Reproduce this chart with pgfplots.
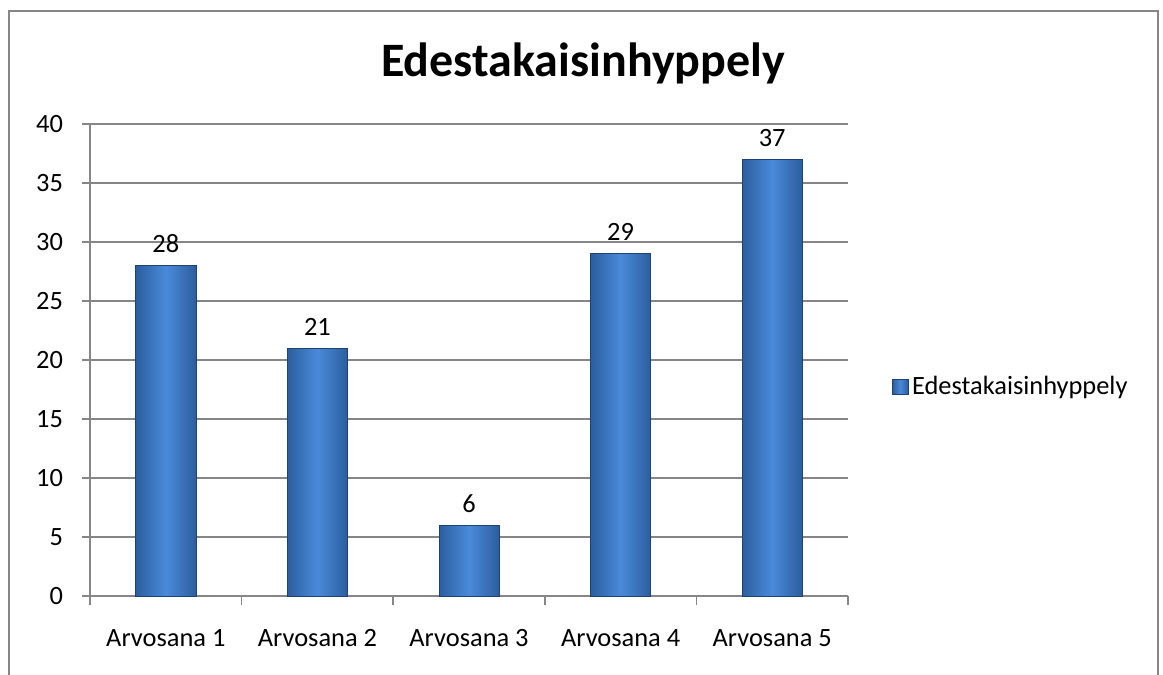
\documentclass[border=0pt]{standalone}
\usepackage{pgfplots}
\pgfplotsset{compat=1.18}
\usepackage{fontspec}
\setmainfont{Carlito}
\definecolor{gridgray}{HTML}{868686}
\definecolor{barmid}{HTML}{4A8ADA}
\definecolor{baredge}{HTML}{2C5E9F}
\begin{document}
\begin{tikzpicture}[x=1pt,y=1pt]
\path[use as bounding box] (0,0) rectangle (581.5,337.5);
\draw[gridgray, line width=1pt] (4.5,-2) -- (4.5,332) -- (579,332) -- (579,-2);
\node[font=\bfseries\fontsize{24}{28}\selectfont, anchor=base] at (291.5,299) {Edestakaisinhyppely};
\begin{axis}[
  at={(45pt,39.5pt)}, anchor=south west,
  scale only axis, width=379pt, height=236pt,
  xmin=-0.5, xmax=4.5, ymin=0, ymax=40,
  axis x line=bottom, axis y line=left,
  axis line style={gridgray, line width=0.8pt, -},
  xtick={0,1,2,3,4},
  xticklabels={Arvosana 1,Arvosana 2,Arvosana 3,Arvosana 4,Arvosana 5},
  major x tick style={draw=none},
  minor xtick={-0.5,0.5,1.5,2.5,3.5,4.5},
  minor x tick style={gridgray, line width=0.8pt},
  minor tick length=4.5pt,
  ytick={0,5,...,40},
  y tick style={gridgray, line width=0.8pt},
  major tick length=4pt,
  tick align=outside,
  ymajorgrids, grid style={gridgray, line width=0.8pt},
  tick label style={font=\fontsize{13.2}{15}\selectfont},
  xticklabel style={yshift=-9pt},
  yticklabel style={xshift=-6pt},
  /pgf/number format/assume math mode=true,
  nodes near coords,
  nodes near coords style={font=\fontsize{13.2}{15}\selectfont, black, yshift=3pt},
  legend style={at={(1.05,0.443)}, anchor=west, draw=none, fill=none,
    font=\fontsize{13.2}{15}\selectfont},
  legend cell align=left,
  every axis plot/.append style={ybar, bar width=30pt, bar shift=0pt,
    draw=baredge!70!black, line width=0.3pt,
    left color=baredge, right color=baredge, middle color=barmid},
]
\addplot[legend image code/.code={\draw[draw=baredge!70!black, left color=baredge, right color=baredge, middle color=barmid] (0pt,-3.8pt) rectangle (7.6pt,3.8pt);}]
  coordinates {(0,28)};
\addlegendentry{Edestakaisinhyppely}
\addplot[forget plot] coordinates {(1,21)};
\addplot[forget plot] coordinates {(2,6)};
\addplot[forget plot] coordinates {(3,29)};
\addplot[forget plot] coordinates {(4,37)};
\end{axis}
\end{tikzpicture}
\end{document}
